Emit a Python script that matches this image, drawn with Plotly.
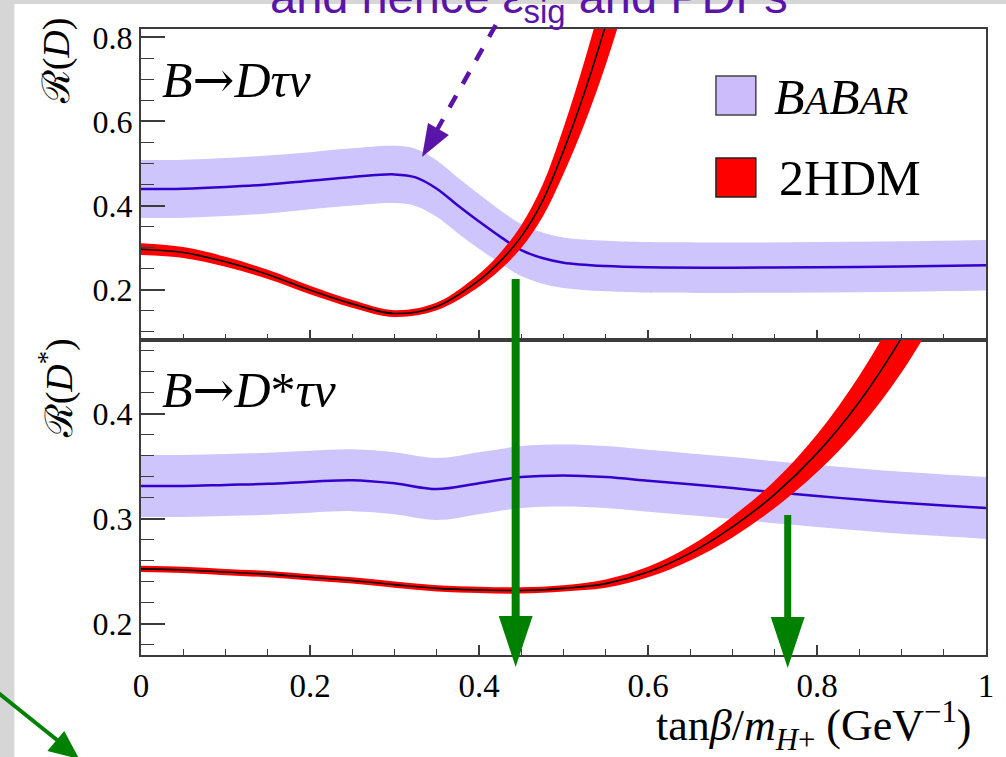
import plotly.graph_objects as go

# ---------------- data ----------------
# Upper panel: R(D)
x_babar_d = [0, 0.05, 0.1, 0.15, 0.2, 0.25, 0.3, 0.325, 0.35, 0.375, 0.4, 0.425,
             0.45, 0.475, 0.5, 0.55, 0.6, 0.7, 0.8, 0.9, 1.0]
babar_d = [0.439, 0.440, 0.444, 0.450, 0.459, 0.468, 0.474, 0.467, 0.440, 0.400,
           0.362, 0.326, 0.294, 0.275, 0.264, 0.256, 0.253, 0.252, 0.253, 0.255, 0.258]
babar_d_err = [0.069, 0.069, 0.069, 0.069, 0.068, 0.068, 0.068, 0.068, 0.067, 0.066,
               0.065, 0.063, 0.062, 0.061, 0.060, 0.060, 0.060, 0.060, 0.060, 0.060, 0.060]

x_hdm_d = [0, 0.05, 0.1, 0.15, 0.2, 0.25, 0.3, 0.35, 0.4, 0.425, 0.45, 0.475,
           0.5, 0.525, 0.55, 0.575]
hdm_d = [0.296, 0.288, 0.266, 0.236, 0.199, 0.166, 0.143, 0.160, 0.222, 0.267,
         0.326, 0.410, 0.530, 0.670, 0.830, 1.010]
hdm_d_err = [0.014, 0.013, 0.012, 0.011, 0.010, 0.009, 0.008, 0.009, 0.015, 0.020,
             0.027, 0.038, 0.055, 0.075, 0.095, 0.115]

# Lower panel: R(D*)
x_babar_ds = [0, 0.05, 0.1, 0.15, 0.2, 0.25, 0.3, 0.35, 0.4, 0.45, 0.5, 0.55,
              0.6, 0.65, 0.7, 0.75, 0.8, 0.85, 0.9, 0.95, 1.0]
babar_ds = [0.331, 0.331, 0.332, 0.333, 0.335, 0.3365, 0.3335, 0.328, 0.3335, 0.3395,
            0.341, 0.3395, 0.336, 0.3325, 0.329, 0.325, 0.3215, 0.318, 0.315, 0.3125, 0.310]
babar_ds_err = [0.0295] * 21

x_hdm_ds = [0, 0.05, 0.1, 0.15, 0.2, 0.25, 0.3, 0.35, 0.4, 0.45, 0.5, 0.55,
            0.6, 0.65, 0.7, 0.75, 0.8, 0.85, 0.9, 0.95]
hdm_ds = [0.252, 0.251, 0.249, 0.247, 0.244, 0.241, 0.237, 0.2335, 0.232, 0.2315,
          0.2335, 0.238, 0.249, 0.267, 0.292, 0.323, 0.362, 0.411, 0.472, 0.545]
hdm_ds_err = [0.003, 0.003, 0.003, 0.003, 0.003, 0.003, 0.003, 0.003, 0.003, 0.003,
              0.003, 0.004, 0.005, 0.007, 0.010, 0.013, 0.018, 0.025, 0.033, 0.040]

x_ticks = [0, 0.2, 0.4, 0.6, 0.8, 1]
x_tick_labels = ["0", "0.2", "0.4", "0.6", "0.8", "1"]
legend_labels = ["<i>B<span style='font-size:40px'>A</span>B<span style='font-size:40px'>AR</span></i>", "2HDM"]
ARROW = "<span style='font-family:DejaVu Serif'>→</span>"
panel_labels = ["<i>B</i>" + ARROW + "<i>Dτν</i>", "<i>B</i>" + ARROW + "<i>D</i>*<i>τν</i>"]
y_titles = ["ℛ(<i>D</i>)", "ℛ(<i>D</i><sup>*</sup>)"]
x_title = "tan<i>β</i>/<i>m</i><sub><i>H</i>+</sub> (GeV<sup>−1</sup>)"
top_text = "and hence ε<sub>sig</sub> and PDFs"

# ---------------- styling ----------------
W, H = 1006, 757
L, R, T, B = 141, 17, 29, 102
PW, PH = W - L - R, H - T - B
SPLIT = (H - B - 340) / PH

def PX(x):
    return (x - L) / PW

def PY(y):
    return (H - B - y) / PH

BAND_BLUE = "#cdc5fb"
LINE_BLUE = "#3300cc"
RED = "#ff0000"
GREEN = "#008000"
PURPLE = "#5a14a8"
AXC = "#3c3c3c"
SERIF = "Liberation Serif"

fig = go.Figure()


def band(x, c, e, xa, ya, color):
    lo = [a - b for a, b in zip(c, e)]
    up = [a + b for a, b in zip(c, e)]
    fig.add_trace(go.Scatter(x=x, y=lo, mode="lines", line=dict(width=0, shape="spline"),
                             xaxis=xa, yaxis=ya, showlegend=False, hoverinfo="skip"))
    fig.add_trace(go.Scatter(x=x, y=up, mode="lines", line=dict(width=0, shape="spline"),
                             fill="tonexty", fillcolor=color,
                             xaxis=xa, yaxis=ya, showlegend=False, hoverinfo="skip"))


def line(x, c, xa, ya, color, w):
    fig.add_trace(go.Scatter(x=x, y=c, mode="lines", line=dict(width=w, color=color, shape="spline"),
                             xaxis=xa, yaxis=ya, showlegend=False))


band(x_babar_d, babar_d, babar_d_err, "x", "y", BAND_BLUE)
line(x_babar_d, babar_d, "x", "y", LINE_BLUE, 2.5)
band(x_hdm_d, hdm_d, hdm_d_err, "x", "y", RED)
line(x_hdm_d, hdm_d, "x", "y", "black", 1.6)

band(x_babar_ds, babar_ds, babar_ds_err, "x2", "y2", BAND_BLUE)
line(x_babar_ds, babar_ds, "x2", "y2", LINE_BLUE, 2.5)
band(x_hdm_ds, hdm_ds, hdm_ds_err, "x2", "y2", RED)
line(x_hdm_ds, hdm_ds, "x2", "y2", "black", 1.6)

common_x = dict(range=[0, 1], tickmode="array", tickvals=x_ticks, ticktext=x_tick_labels,
                ticks="inside", ticklen=10, tickwidth=1.5, tickcolor=AXC,
                minor=dict(ticks="inside", ticklen=6, dtick=0.05, tick0=0, tickcolor=AXC, tickwidth=1.2),
                showline=True, linecolor=AXC, linewidth=2, mirror=True,
                showgrid=False, zeroline=False,
                tickfont=dict(family=SERIF, size=33, color="black"))
common_y = dict(ticks="inside", ticklen=24, tickwidth=1.5, tickcolor=AXC,
                showline=True, linecolor=AXC, linewidth=2, mirror=True,
                showgrid=False, zeroline=False,
                tickfont=dict(family=SERIF, size=32, color="black"))

fig.update_layout(
    width=W, height=H,
    margin=dict(l=L, r=R, t=T, b=B, pad=0),
    paper_bgcolor="#d6d6d6",
    plot_bgcolor="white",
    showlegend=False,
    xaxis=dict(domain=[0, 1], anchor="y", showticklabels=False, **common_x),
    yaxis=dict(domain=[SPLIT, 1], anchor="x", range=[0.08, 0.82], tick0=0, dtick=0.2,
               minor=dict(ticks="inside", ticklen=13, dtick=0.05, tick0=0, tickcolor=AXC, tickwidth=1.2),
               **common_y),
    xaxis2=dict(domain=[0, 1], anchor="y2", showticklabels=True, **common_x),
    yaxis2=dict(domain=[0, SPLIT], anchor="x2", range=[0.17, 0.47], tick0=0, dtick=0.1,
                minor=dict(ticks="inside", ticklen=13, dtick=0.02, tick0=0, tickcolor=AXC, tickwidth=1.2),
                **common_y),
)

shapes = []
# white slide area behind the chart
shapes.append(dict(type="rect", xref="paper", yref="paper", x0=PX(14), x1=PX(1010), y0=PY(4), y1=PY(760),
                   fillcolor="white", line=dict(width=0), layer="below"))
# legend swatches
shapes.append(dict(type="rect", xref="paper", yref="paper", x0=PX(718), x1=PX(758), y0=PY(115), y1=PY(76),
                   fillcolor="#cdbcfb", line=dict(color="#444444", width=1.5)))
shapes.append(dict(type="rect", xref="paper", yref="paper", x0=PX(718), x1=PX(758), y0=PY(197), y1=PY(158),
                   fillcolor=RED, line=dict(color="#222222", width=1.5)))


def tri(p1, p2, p3, color):
    path = "M {} {} L {} {} L {} {} Z".format(PX(p1[0]), PY(p1[1]), PX(p2[0]), PY(p2[1]), PX(p3[0]), PY(p3[1]))
    return dict(type="path", xref="paper", yref="paper", path=path, fillcolor=color, line=dict(width=0))


# green arrows
shapes.append(dict(type="line", xref="paper", yref="paper", x0=PX(517), x1=PX(517), y0=PY(279), y1=PY(620),
                   line=dict(color=GREEN, width=8)))
shapes.append(tri((500, 616), (534, 616), (517, 667), GREEN))
shapes.append(dict(type="line", xref="paper", yref="paper", x0=PX(790), x1=PX(790), y0=PY(515), y1=PY(620),
                   line=dict(color=GREEN, width=7)))
shapes.append(tri((773, 617), (807, 617), (790, 668), GREEN))
shapes.append(dict(type="line", xref="paper", yref="paper", x0=PX(-2), x1=PX(58), y0=PY(693), y1=PY(741),
                   line=dict(color=GREEN, width=4)))
shapes.append(tri((47, 751), (64, 731), (79, 759), GREEN))
# purple dashed arrow
shapes.append(dict(type="line", xref="paper", yref="paper", x0=PX(497), x1=PX(438), y0=PY(25), y1=PY(130),
                   line=dict(color=PURPLE, width=4.5, dash="dash")))
shapes.append(tri((429, 123), (450, 135), (423, 157), PURPLE))
fig.update_layout(shapes=shapes)

ann = []
ann.append(dict(text=top_text, xref="paper", yref="paper", x=PX(268), y=PY(0), xanchor="left", yanchor="middle",
                showarrow=False, font=dict(family="Liberation Sans", size=47, color=PURPLE)))
ann.append(dict(text=panel_labels[0], xref="paper", yref="paper", x=PX(160), y=PY(80), xanchor="left", yanchor="middle",
                showarrow=False, font=dict(family=SERIF, size=50, color="black")))
ann.append(dict(text=panel_labels[1], xref="paper", yref="paper", x=PX(160), y=PY(390), xanchor="left", yanchor="middle",
                showarrow=False, font=dict(family=SERIF, size=50, color="black")))
ann.append(dict(text=legend_labels[0], xref="paper", yref="paper", x=PX(774), y=PY(97), xanchor="left", yanchor="middle",
                showarrow=False, font=dict(family=SERIF, size=50, color="black")))
ann.append(dict(text=legend_labels[1], xref="paper", yref="paper", x=PX(779), y=PY(178), xanchor="left", yanchor="middle",
                showarrow=False, font=dict(family=SERIF, size=50, color="black")))
ann.append(dict(text=y_titles[0], xref="paper", yref="paper", x=PX(56), y=PY(61), xanchor="center", yanchor="middle",
                textangle=-90, showarrow=False, font=dict(family=SERIF, size=38, color="black")))
ann.append(dict(text=y_titles[1], xref="paper", yref="paper", x=PX(56), y=PY(388), xanchor="center", yanchor="middle",
                textangle=-90, showarrow=False, font=dict(family=SERIF, size=38, color="black")))
ann.append(dict(text=x_title, xref="paper", yref="paper", x=PX(977), y=PY(726), xanchor="right", yanchor="middle",
                showarrow=False, font=dict(family=SERIF, size=44, color="black")))
fig.update_layout(annotations=ann)

fig.write_html("out.html", config={"displayModeBar": False},
               post_script="document.body.style.margin='0px';document.body.style.padding='0px';")
